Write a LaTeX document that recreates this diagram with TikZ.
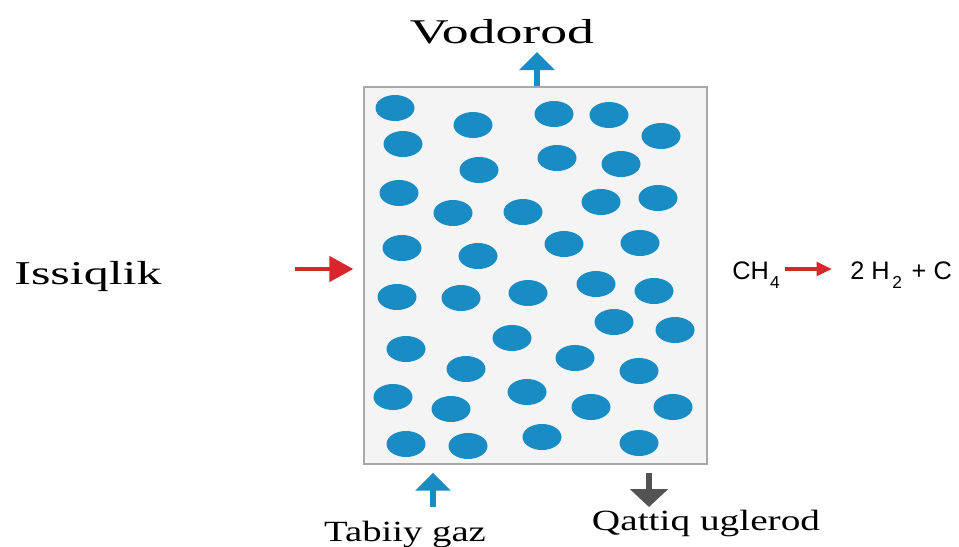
\documentclass[tikz,border=0pt]{standalone}
\usepackage{fontspec}
\setmainfont{Liberation Serif}
\newfontfamily\chemfont{Liberation Sans}
\usetikzlibrary{arrows.meta}
\definecolor{dotblue}{HTML}{1A8CC4}
\definecolor{heatred}{HTML}{D8262C}
\definecolor{carbongray}{HTML}{535353}
\definecolor{boxgray}{HTML}{A8A8A8}
\definecolor{boxfill}{HTML}{F4F4F4}

\begin{document}
\begin{tikzpicture}[x=0.75pt, y=-0.75pt,
    reactor/.style={draw=boxgray, fill=boxfill, line width=1.1pt, inner sep=0pt,
      minimum width=257.25pt, minimum height=282.75pt},
    lbl/.style={inner sep=0pt, anchor=base, font=\fontsize{#1}{#1}\selectfont},
    chem/.style={inner sep=0pt, anchor=base west, font=\chemfont\fontsize{19}{22}\selectfont},
    flowblue/.style={draw=dotblue, line width=3.8pt, -{Triangle[width=26pt,length=13.5pt]}},
    flowgray/.style={draw=carbongray, line width=4.5pt, -{Triangle[width=28pt,length=13.5pt]}},
    flowred/.style={draw=heatred, line width=3pt, -{Triangle[width=19pt,length=18pt]}},
    eqarrow/.style={draw=heatred, line width=3pt, -{Triangle[width=10pt,length=11.5pt]}}]
  \useasboundingbox (0,0) rectangle (959,546);

  % reactor with the gas bubbles
  \node[reactor] (reactor) at (535.5,275.5) {};
  \foreach \dx/\dy in {395/108, 473/125, 554/114, 609/115, 661/136,
      403/144, 479/170, 557/158, 621/164,
      399/193, 453/213, 523/212, 601/202, 658/198,
      402/248, 478/256, 564/244, 640/243,
      397/297, 461/298, 528/293, 596/284, 654/291,
      406/349, 512/338, 614/322, 675/330,
      466/369, 575/358, 639/371,
      393/397, 451/409, 527/392, 591/407, 673/407,
      406/444, 468/446, 542/437, 639/443}
    \fill[dotblue] (\dx,\dy) ellipse (19.5 and 13);

  % labels
  \node[lbl=26] (vodorod) at (502,43) {\scalebox{1.55}[1]{Vodorod}};
  \node[lbl=25] (issiqlik) at (88,284) {\scalebox{1.5}[1]{Issiqlik}};
  \node[lbl=22] (tabiiygaz) at (405,541) {\scalebox{1.32}[1]{Tabiiy gaz}};
  \node[lbl=22] (qattiq) at (706,530) {\scalebox{1.34}[1]{Qattiq uglerod}};

  % reaction
  \node[chem] (ch4) at (732,279) {CH\kern1pt\raisebox{-7pt}{\fontsize{13}{13}\selectfont 4}};
  \node[chem] (products) at (850,279) {2 H\kern2pt\raisebox{-7pt}{\fontsize{13}{13}\selectfont 2}\kern2pt{} + C};

  % flows
  \coordinate (h2tip) at (537,52);
  \coordinate (heatstart) at (295,269);
  \coordinate (gasin) at (433,507);
  \coordinate (carbonout) at (649,507);
  \draw[flowblue] (reactor.north -| h2tip) -- (h2tip);
  \draw[flowred] (heatstart) -- ([xshift=-7.5pt]reactor.west |- heatstart);
  \draw[flowblue] (gasin) -- ([yshift=-6pt]reactor.south -| gasin);
  \draw[flowgray] ([yshift=-6pt]reactor.south -| carbonout) -- (carbonout);
  \draw[eqarrow, shorten <=3.75pt, shorten >=13.5pt] (ch4.east |- 0,269) -- (products.west |- 0,269);
\end{tikzpicture}
\end{document}
